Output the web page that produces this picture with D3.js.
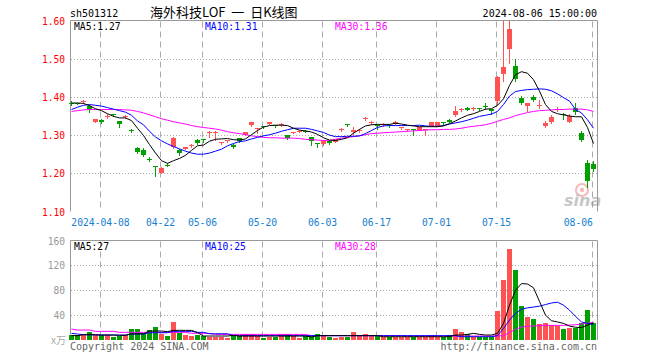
<!DOCTYPE html>
<html>
<head>
<meta charset="utf-8">
<script src="https://cdn.jsdelivr.net/npm/d3@7"></script>
<style>
  body { margin: 0; background: #fff; }
  svg { display: block; }
  text { font-family: 'DejaVu Sans Mono', monospace; }
</style>
</head>
<body>
<svg id="kline" width="660" height="360"></svg>
<script>
const dates = [
	'03-28','03-29','04-01','04-02','04-03','04-08','04-09','04-10','04-11','04-12',
	'04-15','04-16','04-17','04-18','04-19','04-22','04-23','04-24','04-25','04-26',
	'04-29','04-30','05-06','05-07','05-08','05-09','05-10','05-13','05-14','05-15',
	'05-16','05-17','05-20','05-21','05-22','05-23','05-24','05-27','05-28','05-29',
	'05-30','05-31','06-03','06-04','06-05','06-06','06-07','06-11','06-12','06-13',
	'06-14','06-17','06-18','06-19','06-20','06-21','06-24','06-25','06-26','06-27',
	'06-28','07-01','07-02','07-03','07-04','07-05','07-08','07-09','07-10','07-11',
	'07-12','07-15','07-16','07-17','07-18','07-19','07-22','07-23','07-24','07-25',
	'07-26','07-29','07-30','07-31','08-01','08-02','08-05','08-06'
].map((d) => '2024-' + d);

const open = [
	1.385,1.383,1.388,1.377,1.334,1.340,1.348,1.356,1.337,1.348,
	1.313,1.267,1.260,1.238,1.219,1.202,1.223,1.268,1.260,1.264,
	1.272,1.288,1.290,1.308,1.308,1.280,1.284,1.275,1.292,1.300,
	1.326,1.317,1.325,1.329,1.326,1.328,1.300,1.307,1.310,1.312,
	1.294,1.280,1.276,1.285,1.283,1.316,1.330,1.307,1.313,1.341,
	1.332,1.326,1.328,1.327,1.330,1.319,1.315,1.315,1.314,1.315,
	1.324,1.325,1.334,1.340,1.353,1.367,1.372,1.371,1.372,1.377,
	1.368,1.390,1.461,1.525,1.481,1.398,1.376,1.401,1.378,1.323,
	1.334,1.367,1.356,1.335,1.370,1.305,1.228,1.224
];
const high = [
	1.390,1.384,1.392,1.379,1.343,1.341,1.354,1.356,1.338,1.353,
	1.317,1.270,1.265,1.243,1.220,1.217,1.226,1.294,1.263,1.269,
	1.276,1.290,1.291,1.310,1.310,1.283,1.287,1.278,1.293,1.308,
	1.335,1.319,1.325,1.334,1.327,1.332,1.301,1.309,1.313,1.313,
	1.295,1.280,1.287,1.286,1.291,1.319,1.330,1.320,1.317,1.347,
	1.336,1.327,1.332,1.328,1.336,1.322,1.317,1.315,1.321,1.317,
	1.335,1.334,1.334,1.341,1.377,1.371,1.373,1.373,1.372,1.383,
	1.369,1.455,1.600,1.600,1.499,1.403,1.384,1.404,1.391,1.337,
	1.353,1.374,1.359,1.354,1.385,1.311,1.234,1.231
];
const low = [
	1.379,1.381,1.384,1.360,1.333,1.331,1.344,1.350,1.322,1.344,
	1.307,1.254,1.244,1.231,1.194,1.200,1.218,1.266,1.248,1.263,
	1.269,1.277,1.283,1.296,1.287,1.278,1.282,1.265,1.282,1.299,
	1.325,1.305,1.318,1.328,1.322,1.325,1.289,1.305,1.308,1.308,
	1.274,1.270,1.274,1.276,1.281,1.312,1.323,1.303,1.309,1.340,
	1.329,1.316,1.325,1.322,1.329,1.316,1.310,1.301,1.313,1.301,
	1.323,1.324,1.326,1.333,1.350,1.362,1.365,1.366,1.365,1.368,
	1.355,1.380,1.442,1.488,1.442,1.381,1.362,1.390,1.372,1.321,
	1.332,1.362,1.342,1.333,1.355,1.285,1.163,1.207
];
const close = [
	1.382,1.382,1.389,1.368,1.342,1.335,1.349,1.355,1.330,1.349,
	1.312,1.257,1.249,1.237,1.216,1.215,1.222,1.292,1.252,1.268,
	1.273,1.279,1.289,1.309,1.309,1.281,1.286,1.268,1.284,1.307,
	1.334,1.318,1.324,1.333,1.324,1.329,1.292,1.308,1.311,1.310,
	1.285,1.279,1.285,1.279,1.290,1.317,1.329,1.314,1.314,1.346,
	1.333,1.323,1.329,1.326,1.335,1.320,1.316,1.314,1.320,1.316,
	1.333,1.333,1.333,1.334,1.362,1.368,1.367,1.372,1.371,1.376,
	1.362,1.453,1.477,1.577,1.446,1.383,1.383,1.392,1.379,1.332,
	1.348,1.368,1.355,1.349,1.361,1.287,1.180,1.211
];
const volume = [
	7.5,7.5,8,12.8,7.5,7.5,7.5,5.3,7,7.5,
	17.6,17.6,10.7,16,20.8,9.6,6.4,28.8,11.7,8,
	6.4,8.5,7,5.3,5.3,5.3,3.7,5.9,5.9,9,
	9,5.9,3.7,5.3,5.3,9,9,5.9,3.7,5.9,
	5.9,9.6,5.9,5.5,3.7,5.3,5.3,12.8,7.5,9.6,
	7,7,5.3,5.3,5.3,5.3,5.3,5.3,5.3,5.3,
	8,5.3,5.3,8,17.6,13.3,9.6,5.3,5.3,5.3,
	5.3,46.4,96,145.6,113,54.4,36.8,33.6,25,27.7,
	23.5,22.4,17.6,18.7,18.7,26.7,48,26.7
];

const ma5 = [
	1.384,1.384,1.383,1.377,1.369,1.364,1.356,1.349,1.345,1.345,
	1.338,1.318,1.299,1.275,1.253,1.233,1.226,1.233,1.239,1.247,
	1.260,1.272,1.274,1.284,1.289,1.290,1.291,1.288,1.287,1.290,
	1.301,1.312,1.321,1.325,1.326,1.326,1.325,1.318,1.313,1.311,
	1.308,1.302,1.293,1.287,1.286,1.289,1.293,1.305,1.315,1.324,
	1.327,1.328,1.328,1.328,1.331,1.329,1.326,1.324,1.322,1.322,
	1.322,1.322,1.324,1.330,1.337,1.345,1.352,1.356,1.362,1.368,
	1.369,1.378,1.395,1.430,1.458,1.466,1.462,1.445,1.415,1.380,
	1.362,1.356,1.353,1.350,1.348,1.348,1.320,1.278
];
const ma10 = [
	1.367,1.373,1.378,1.380,1.378,1.376,1.372,1.368,1.364,1.360,
	1.352,1.337,1.327,1.310,1.295,1.285,1.277,1.270,1.264,1.258,
	1.253,1.250,1.250,1.253,1.258,1.263,1.272,1.278,1.283,1.285,
	1.290,1.294,1.298,1.301,1.305,1.310,1.314,1.318,1.318,1.318,
	1.315,1.311,1.307,1.300,1.296,1.296,1.297,1.297,1.298,1.304,
	1.312,1.320,1.324,1.325,1.325,1.325,1.325,1.325,1.326,1.324,
	1.323,1.323,1.325,1.329,1.332,1.335,1.339,1.344,1.349,1.352,
	1.355,1.362,1.380,1.402,1.414,1.417,1.419,1.420,1.421,1.420,
	1.416,1.408,1.398,1.389,1.367,1.358,1.340,1.318
];
const ma30 = [
	1.362,1.364,1.366,1.367,1.367,1.367,1.367,1.367,1.367,1.366,
	1.365,1.362,1.358,1.353,1.348,1.343,1.339,1.335,1.332,1.329,
	1.325,1.322,1.320,1.318,1.316,1.313,1.309,1.306,1.304,1.301,
	1.298,1.296,1.294,1.293,1.293,1.292,1.292,1.292,1.291,1.289,
	1.288,1.287,1.286,1.286,1.289,1.292,1.294,1.296,1.298,1.301,
	1.304,1.305,1.306,1.307,1.308,1.309,1.310,1.311,1.312,1.313,
	1.314,1.314,1.315,1.315,1.316,1.318,1.321,1.323,1.325,1.327,
	1.331,1.336,1.341,1.345,1.351,1.355,1.359,1.362,1.364,1.365,
	1.366,1.367,1.367,1.368,1.368,1.368,1.366,1.362
];

const volMa5 = [
	7,7,8.5,8.5,8.5,8,8,8,7.5,7.5,
	10,10,10,14.4,14.4,14.4,13.5,15.5,15.5,15.5,
	15.5,12,6.4,6.4,6.4,6.4,6.4,7.5,6.4,6.4,
	6.4,6.4,6.4,6.4,6.4,6.4,6.4,6.4,6.4,6.4,
	4.8,7,7,7,7,7,7,7,7,7,
	7,7,5.3,5.3,5.3,5.3,5.3,5.3,5.3,5.3,
	5.3,5.3,5.3,5.3,8,8,9,10.7,9,8,
	8,10.7,26.7,56,80,90.7,90,84,62,40,
	31,29,26.7,22.4,20.5,20,24,27.4
];
const volMa10 = [
	10.7,9.6,8.5,8.5,8,8,8,8,8,8,
	9.6,9.6,9.6,11.7,11.7,11.7,11.7,13.9,13.9,13.9,
	13.9,12.3,12.3,10,10,10,10,7,7,7,
	7,7,7,7,7,7,7,7,7,7,
	7,7,7,7,7,7,7,7,7,7,
	7,7,7,7,7,7,7,7,7,7,
	7,7,7,7,7,5.3,5.3,5.3,5.3,5.3,
	5.3,7,18.7,32,42.7,49.6,51.7,53,54.4,57,
	59.5,60.8,56,48,38,29,26.7,25.2
];
const volMa30 = [
	17.6,16,16,16,13.9,13.9,13.9,13.9,12.3,12.3,
	12.3,12.3,12.3,12.3,12.3,12.3,12.3,12.3,12.3,12.3,
	10.7,10.7,10.7,10.7,9,9,9,9,9,9,
	9,9,9,9,9,9,9,9,9,9,
	7,7,7,7,7,7,7,7,7,7,
	7,7,7,7,7,7,6.4,6.4,6.4,6.4,
	6.4,6.4,6.4,6.4,6.4,6.4,6.4,6.4,6.4,6.4,
	6.4,6.5,7,12.3,17,21,22,22.5,23,23.5,
	23.5,23.5,23.5,24,24.5,25.6,27,28.4
];

const priceTicks = [1.6, 1.5, 1.4, 1.3, 1.2, 1.1];
const volTicks = [160, 120, 80, 40];
const tickDates = ['2024-04-08','2024-04-22','2024-05-06','2024-05-20','2024-06-03','2024-06-17','2024-07-01','2024-07-15','2024-08-06'];
const tickLabels = ['2024-04-08','04-22','05-06','05-20','06-03','06-17','07-01','07-15','08-06'];

const RED = '#ff5353';
const GREEN = '#00a000';
const GRID = '#aaaaaa';

const svg = d3.select('#kline');

const x = d3.scaleBand().domain(dates).range([68.5, 596.5]);
const cx = (d) => x(d) + x.bandwidth() / 2;
const yPrice = d3.scaleLinear().domain([1.1, 1.6]).range([211.5, 20.5]);
const yVol = d3.scaleLinear().domain([0, 160]).range([340, 240.5]);

// legend values are cut, not rounded (1.278 -> 1.27)
const cut = (v, digits) => (Math.floor(v * 10 ** digits) / 10 ** digits).toFixed(digits);
const last = (arr) => arr[arr.length - 1];

const candles = dates.map((d, i) => ({
	date: d,
	open: open[i],
	high: high[i],
	low: low[i],
	close: close[i],
	volume: volume[i],
	up: close[i] >= open[i],
}));

// header texts
svg.append('text')
	.attr('x', 70).attr('y', 16.5)
	.attr('font-size', 10).attr('fill', '#000')
	.text('sh501312');
svg.append('text')
	.attr('x', 150).attr('y', 17)
	.attr('font-size', 13).attr('fill', '#000')
	.style('font-family', "'Noto Sans CJK SC', sans-serif")
	.style('white-space', 'pre')
	.attr('xml:space', 'preserve')
	.text('海外科技LOF  一  日K线图');
svg.append('text')
	.attr('x', 597).attr('y', 16.5)
	.attr('font-size', 10).attr('fill', '#000')
	.attr('text-anchor', 'end')
	.text('2024-08-06 15:00:00');

function drawPanel(yScale, ticks, top, bottom) {
	// dotted horizontal grid
	svg.append('g')
		.selectAll('line')
		.data(ticks.slice(1).filter((t) => yScale(t) < bottom - 1))
		.join('line')
		.attr('x1', 71).attr('x2', 597)
		.attr('y1', (t) => Math.round(yScale(t)) + 0.5)
		.attr('y2', (t) => Math.round(yScale(t)) + 0.5)
		.attr('stroke', GRID)
		.attr('stroke-dasharray', '1,2');

	// dashed vertical date lines
	svg.append('g')
		.selectAll('line')
		.data(tickDates)
		.join('line')
		.attr('x1', (d) => cx(d) - 1)
		.attr('x2', (d) => cx(d) - 1)
		.attr('y1', top + 1)
		.attr('y2', bottom)
		.attr('stroke', GRID)
		.attr('stroke-dasharray', '6,4');

	// frame (left, top, right)
	svg.append('path')
		.attr('d', `M70.5,${bottom}V${top}H597.5V${bottom}`)
		.attr('fill', 'none')
		.attr('stroke', '#999');
}

drawPanel(yPrice, priceTicks, 20.5, 211.5);
drawPanel(yVol, volTicks, 240.5, 340);

// price axis labels
svg.append('g')
	.selectAll('text')
	.data(priceTicks)
	.join('text')
	.attr('x', 65)
	.attr('y', (t) => yPrice(t) + 4)
	.attr('text-anchor', 'end')
	.attr('font-size', 9.6)
	.attr('fill', '#ff0000')
	.text((t) => t.toFixed(2));

// volume axis labels
svg.append('g')
	.selectAll('text')
	.data(volTicks)
	.join('text')
	.attr('x', 65)
	.attr('y', (t) => yVol(t) + 4)
	.attr('text-anchor', 'end')
	.attr('font-size', 9.6)
	.attr('fill', '#999')
	.text((t) => t);
svg.append('text')
	.attr('x', 66).attr('y', 344)
	.attr('text-anchor', 'end')
	.attr('font-size', 10)
	.attr('fill', '#aaa')
	.style('font-family', "'Noto Sans CJK SC', sans-serif")
	.text('x万');

// date labels
svg.append('g')
	.selectAll('text')
	.data(tickDates)
	.join('text')
	.attr('x', (d, i) => {
		const half = tickLabels[i].length * 5.85 / 2;
		return Math.min(cx(d) - 1, 593 - half);
	})
	.attr('y', 226)
	.attr('text-anchor', 'middle')
	.attr('font-size', 9.7)
	.attr('fill', '#1480d0')
	.text((d, i) => tickLabels[i]);

// sina watermark
const mark = svg.append('g').attr('opacity', 0.55);
mark.append('circle')
	.attr('cx', 582).attr('cy', 190).attr('r', 6)
	.attr('fill', 'none').attr('stroke', '#f08080').attr('stroke-width', 2);
mark.append('circle')
	.attr('cx', 582).attr('cy', 190).attr('r', 2.2)
	.attr('fill', '#f08080');
mark.append('text')
	.attr('x', 564).attr('y', 206)
	.attr('font-size', 16).attr('font-weight', 'bold')
	.attr('font-style', 'italic')
	.attr('fill', '#999')
	.style('font-family', "'DejaVu Sans', sans-serif")
	.text('sina');

// candles
const candle = svg.append('g')
	.selectAll('g')
	.data(candles)
	.join('g')
	.attr('shape-rendering', 'crispEdges');

candle.append('line')
	.attr('x1', (d) => cx(d.date))
	.attr('x2', (d) => cx(d.date))
	.attr('y1', (d) => Math.round(yPrice(d.high)))
	.attr('y2', (d) => Math.round(yPrice(d.low)) + 1)
	.attr('stroke', (d) => (d.up ? RED : GREEN));

candle.append('rect')
	.attr('x', (d) => cx(d.date) - 2.5)
	.attr('width', 5)
	.attr('y', (d) => Math.round(yPrice(Math.max(d.open, d.close))))
	.attr('height', (d) => {
		const h = Math.round(yPrice(Math.min(d.open, d.close))) - Math.round(yPrice(Math.max(d.open, d.close)));
		return Math.max(1, h);
	})
	.attr('fill', (d) => (d.up ? RED : GREEN));

// volume bars
svg.append('g')
	.selectAll('rect')
	.data(candles)
	.join('rect')
	.attr('shape-rendering', 'crispEdges')
	.attr('x', (d) => cx(d.date) - 2.5)
	.attr('width', 5)
	.attr('y', (d) => Math.round(yVol(d.volume)))
	.attr('height', (d) => 340 - Math.round(yVol(d.volume)))
	.attr('fill', (d) => (d.up ? RED : GREEN));

// moving average lines
function drawLine(values, yScale, color) {
	const line = d3.line()
		.x((v, i) => cx(dates[i]))
		.y((v) => yScale(v));
	svg.append('path')
		.datum(values)
		.attr('d', line)
		.attr('fill', 'none')
		.attr('stroke', color)
		.attr('stroke-width', 1);
}

drawLine(ma30, yPrice, '#ff00ff');
drawLine(ma10, yPrice, '#0000ff');
drawLine(ma5, yPrice, '#000000');
drawLine(volMa30, yVol, '#ff00ff');
drawLine(volMa10, yVol, '#0000ff');
drawLine(volMa5, yVol, '#000000');

// legends
function legend(y, items) {
	svg.append('g')
		.selectAll('text')
		.data(items)
		.join('text')
		.attr('x', (d) => d.x)
		.attr('y', y)
		.attr('font-size', 9.7)
		.attr('fill', (d) => d.color)
		.text((d) => d.label);
}

legend(29.5, [
	{ x: 74, color: '#000', label: 'MA5:' + cut(last(ma5), 2) },
	{ x: 205, color: '#0000ff', label: 'MA10:' + cut(last(ma10), 2) },
	{ x: 335, color: '#ff00ff', label: 'MA30:' + cut(last(ma30), 2) },
]);
legend(250, [
	{ x: 74, color: '#000', label: 'MA5:' + cut(last(volMa5), 0) },
	{ x: 205, color: '#0000ff', label: 'MA10:' + cut(last(volMa10), 0) },
	{ x: 335, color: '#ff00ff', label: 'MA30:' + cut(last(volMa30), 0) },
]);

// footer
svg.append('text')
	.attr('x', 70).attr('y', 349.5)
	.attr('font-size', 10).attr('fill', '#666')
	.text('Copyright 2024 SINA.COM');
svg.append('text')
	.attr('x', 597).attr('y', 349.5)
	.attr('font-size', 10).attr('fill', '#666')
	.attr('text-anchor', 'end')
	.text('http://finance.sina.com.cn');
</script>
</body>
</html>
